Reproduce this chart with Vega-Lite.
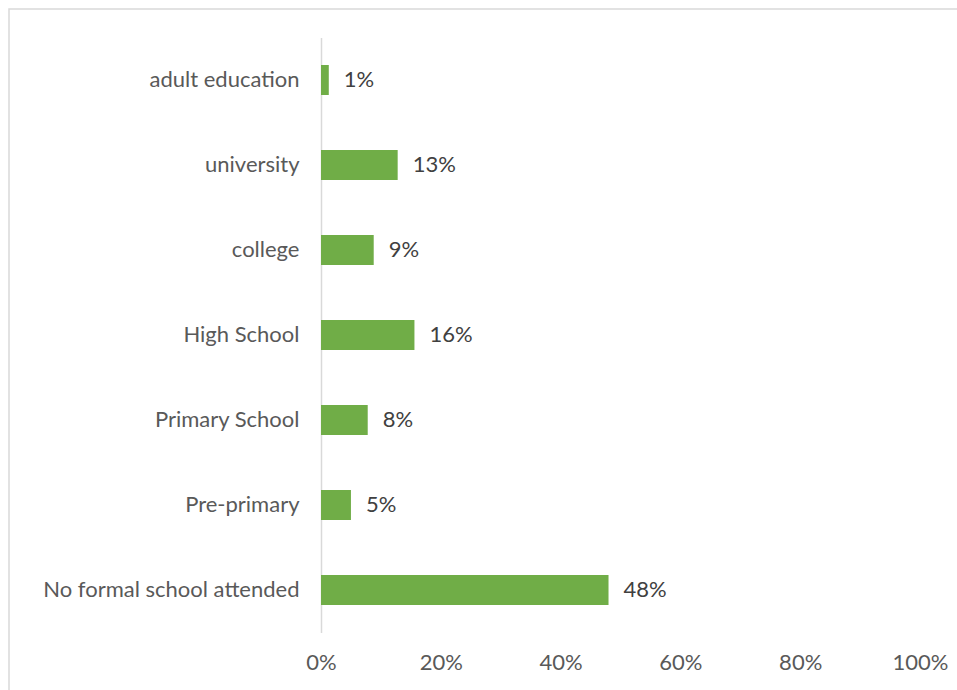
{
  "$schema": "https://vega.github.io/schema/vega-lite/v6.json",
  "autosize": "none",
  "padding": {"left": 9, "top": 9, "right": -6, "bottom": -6},
  "width": 954,
  "height": 687,
  "background": "white",
  "config": {
    "view": {"stroke": "#d9d9d9", "strokeWidth": 1.5},
    "font": "Lato",
    "axis": {"grid": false, "ticks": false, "labelFont": "Lato", "labelFontSize": 22, "labelColor": "#595959", "title": null, "labelLimit": 0}
  },
  "data": {
    "values": [
      {"level": "adult education", "share": 0.013},
      {"level": "university", "share": 0.128},
      {"level": "college", "share": 0.088},
      {"level": "High School", "share": 0.156},
      {"level": "Primary School", "share": 0.078},
      {"level": "Pre-primary", "share": 0.05},
      {"level": "No formal school attended", "share": 0.48}
    ]
  },
  "encoding": {
    "y": {
      "field": "level",
      "type": "nominal",
      "sort": null,
      "scale": {"range": [28.5, 623.5], "paddingInner": 0.647, "paddingOuter": 0.3235},
      "axis": {"offset": -312, "domainColor": "#d9d9d9", "domainWidth": 1.5, "labelPadding": 22}
    },
    "x": {
      "field": "share",
      "type": "quantitative",
      "scale": {"domain": [0, 1], "range": [312, 911]},
      "axis": {"offset": -63.5, "domain": false, "format": ".0%", "values": [0, 0.2, 0.4, 0.6, 0.8, 1], "labelPadding": 20, "labelFlush": false}
    }
  },
  "layer": [
    {"mark": {"type": "bar", "color": "#70AD47"}},
    {
      "mark": {"type": "text", "align": "left", "dx": 15, "fontSize": 22, "color": "#404040", "font": "Lato"},
      "encoding": {"text": {"field": "share", "type": "quantitative", "format": ".0%"}}
    }
  ]
}
